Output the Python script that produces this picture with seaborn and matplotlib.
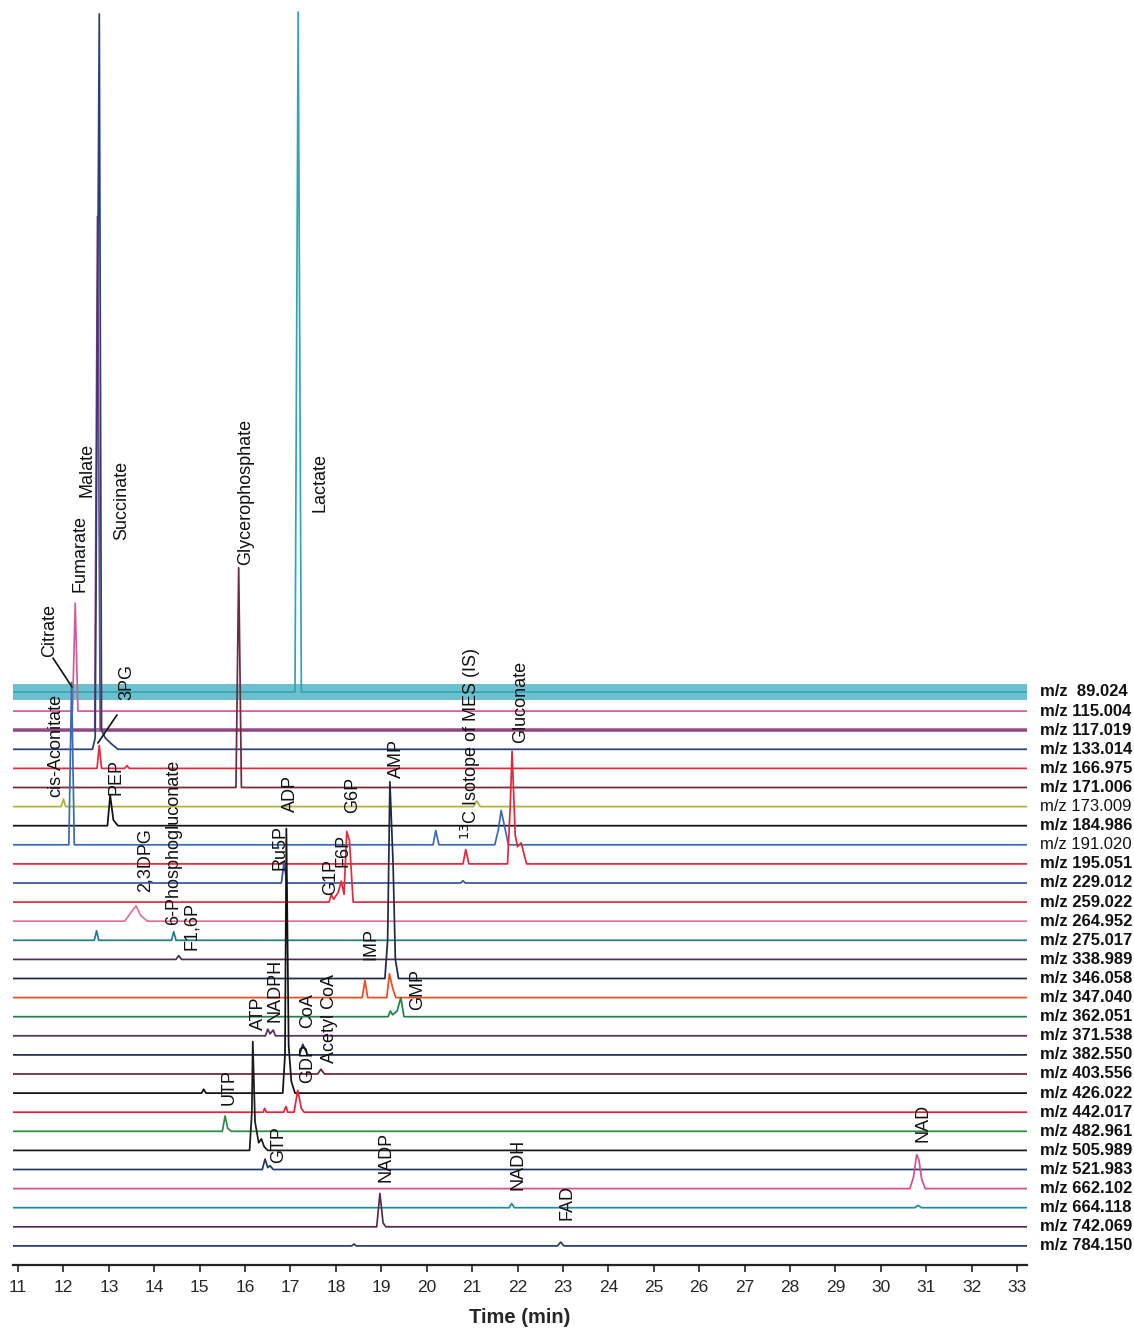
import matplotlib
matplotlib.use("Agg")
import matplotlib.pyplot as plt
import seaborn as sns
import pandas as pd
import numpy as np

# ---------------- data ----------------
mz_values = ["89.024", "115.004", "117.019", "133.014", "166.975", "171.006",
             "173.009", "184.986", "191.020", "195.051", "229.012", "259.022",
             "264.952", "275.017", "338.989", "346.058", "347.040", "362.051",
             "371.538", "382.550", "403.556", "426.022", "442.017", "482.961",
             "505.989", "521.983", "662.102", "664.118", "742.069", "784.150"]
mz_regular = ["173.009", "191.020"]          # labels printed in regular weight

# chromatogram profile vertices per trace: retention time (min) / intensity (trace-spacing units)
peak_times = {
    "89.024":  [17.10, 17.17, 17.24],
    "115.004": [12.20, 12.26, 12.32],
    "117.019": [12.69, 12.75, 12.81],
    "133.014": [12.64, 12.70, 12.79, 12.84, 12.92, 13.05, 13.20],
    "166.975": [12.74, 12.79, 12.84, 13.35, 13.40, 13.45],
    "171.006": [15.80, 15.86, 15.92],
    "173.009": [11.95, 12.00, 12.05, 21.03, 21.10, 21.18],
    "184.986": [12.97, 13.03, 13.10, 13.20],
    "191.020": [12.12, 12.18, 12.24, 20.14, 20.20, 20.27, 21.50, 21.58, 21.64, 21.72, 21.80],
    "195.051": [20.80, 20.86, 20.93, 21.78, 21.84, 21.88, 21.95, 22.00, 22.08, 22.20],
    "229.012": [16.80, 16.86, 16.92, 20.75, 20.80, 20.85],
    "259.022": [17.85, 17.90, 17.95, 18.05, 18.12, 18.18, 18.24, 18.30, 18.38],
    "264.952": [13.35, 13.50, 13.60, 13.70, 13.85],
    "275.017": [12.68, 12.73, 12.78, 14.38, 14.43, 14.48],
    "338.989": [14.48, 14.54, 14.60],
    "346.058": [19.08, 19.14, 19.19, 19.26, 19.31, 19.38],
    "347.040": [18.58, 18.64, 18.70, 19.12, 19.18, 19.25, 19.32],
    "362.051": [19.15, 19.20, 19.25, 19.35, 19.43, 19.50],
    "371.538": [16.45, 16.50, 16.55, 16.62, 16.67],
    "382.550": [17.20, 17.27, 17.32, 17.38],
    "403.556": [17.60, 17.67, 17.75],
    "426.022": [15.04, 15.09, 15.14, 16.83, 16.88, 16.91, 16.96, 17.02, 17.10],
    "442.017": [16.40, 16.43, 16.47, 16.85, 16.90, 16.94, 17.08, 17.16, 17.24, 17.30],
    "482.961": [15.50, 15.56, 15.62, 15.70],
    "505.989": [16.10, 16.15, 16.17, 16.22, 16.30, 16.36, 16.42, 16.50],
    "521.983": [16.38, 16.44, 16.50, 16.55, 16.62],
    "662.102": [30.64, 30.72, 30.79, 30.84, 30.90, 30.98],
    "664.118": [21.82, 21.87, 21.93, 30.75, 30.82, 30.90],
    "742.069": [18.90, 18.97, 19.04, 19.10],
    "784.150": [18.35, 18.40, 18.45, 22.88, 22.95, 23.02],
}
peak_heights = {
    "89.024":  [0.0, 35.6, 0.0],
    "115.004": [0.0, 5.65, 0.0],
    "117.019": [0.0, 26.9, 0.0],
    "133.014": [0.0, 0.6, 38.5, 1.0, 0.6, 0.3, 0.0],
    "166.975": [0.0, 1.2, 0.0, 0.0, 0.15, 0.0],
    "171.006": [0.0, 11.5, 0.0],
    "173.009": [0.0, 0.4, 0.0, 0.0, 0.3, 0.0],
    "184.986": [0.0, 1.6, 0.3, 0.0],
    "191.020": [0.0, 8.5, 0.0, 0.0, 0.75, 0.0, 0.0, 0.8, 1.8, 0.9, 0.0],
    "195.051": [0.0, 0.75, 0.0, 0.0, 3.0, 5.9, 1.5, 0.9, 1.1, 0.0],
    "229.012": [0.0, 1.1, 0.0, 0.0, 0.12, 0.0],
    "259.022": [0.0, 0.4, 0.15, 0.5, 1.1, 0.4, 3.7, 3.2, 0.0],
    "264.952": [0.0, 0.5, 0.8, 0.3, 0.0],
    "275.017": [0.0, 0.5, 0.0, 0.0, 0.45, 0.0],
    "338.989": [0.0, 0.2, 0.0],
    "346.058": [0.0, 2.0, 10.3, 6.0, 1.0, 0.0],
    "347.040": [0.0, 0.9, 0.0, 0.0, 1.25, 0.5, 0.0],
    "362.051": [0.0, 0.3, 0.1, 0.3, 1.0, 0.0],
    "371.538": [0.0, 0.35, 0.1, 0.3, 0.0],
    "382.550": [0.0, 0.55, 0.3, 0.0],
    "403.556": [0.0, 0.25, 0.0],
    "426.022": [0.0, 0.2, 0.0, 0.0, 2.0, 13.85, 2.5, 0.6, 0.0],
    "442.017": [0.0, 0.2, 0.0, 0.0, 0.3, 0.0, 0.0, 1.15, 0.2, 0.0],
    "482.961": [0.0, 0.8, 0.15, 0.0],
    "505.989": [0.0, 2.0, 5.7, 1.5, 0.4, 0.6, 0.2, 0.0],
    "521.983": [0.0, 0.55, 0.1, 0.2, 0.0],
    "662.102": [0.0, 0.6, 1.78, 1.5, 0.5, 0.0],
    "664.118": [0.0, 0.22, 0.0, 0.0, 0.12, 0.0],
    "742.069": [0.0, 1.75, 0.2, 0.0],
    "784.150": [0.0, 0.1, 0.0, 0.0, 0.2, 0.0],
}
# baseline noise amplitude (trace-spacing units)
noise_amp = {"89.024": 0.42, "117.019": 0.12}

compound_labels = ["Citrate", "Fumarate", "Malate", "Succinate", "Glycerophosphate",
                   "Lactate", "3PG", "cis-Aconitate", "PEP", "6-Phosphogluconate",
                   "2,3DPG", "F1,6P", "ADP", "G6P", "AMP", "Ru5P", "G1P", "F6P",
                   r"$^{13}$C Isotope of MES (IS)", "Gluconate", "IMP", "NADPH",
                   "ATP", "CoA", "Acetyl CoA", "GMP", "GDP", "UTP", "GTP", "NADP",
                   "NADH", "NAD", "FAD"]
x_ticks = list(range(11, 34))

# ---------------- style / layout ----------------
trace_colors = ["#2fa6b8", "#d65a9a", "#8c3f7c", "#263f7a", "#e8283c", "#6e2b3a",
                "#a9b53a", "#111111", "#3a6ab5", "#e62638", "#33569a", "#e52a3a",
                "#e0709a", "#1f7d8c", "#4b3050", "#1c2a48", "#f04a1e", "#22804a",
                "#5a2e5e", "#1e2a4a", "#6a2432", "#111111", "#e8203c", "#2a8a48",
                "#1a1a1a", "#1c3a6a", "#d4508a", "#1f8a9a", "#5a2a4a", "#2a3a6a"]
label_pos_t = [11.70, 12.37, 12.52, 13.29, 16.02, 17.65, 13.40, 11.84, 13.16, 14.43,
               13.80, 14.82, 16.99, 18.36, 19.33, 16.77, 17.89, 18.16, 20.98, 22.06,
               18.78, 16.66, 16.29, 17.37, 17.87, 19.81, 17.37, 15.65, 16.75, 19.11,
               22.01, 30.93, 23.09]
label_pos_v = [30.83, 34.24, 39.21, 36.96, 35.65, 38.42, 28.58, 23.50, 23.61, 16.80,
               18.53, 15.49, 22.72, 22.66, 24.50, 19.68, 18.37, 19.84, 21.25, 26.33,
               14.97, 11.72, 11.30, 11.41, 9.58, 12.35, 8.53, 7.38, 4.34, 3.35,
               2.93, 5.44, 1.36]

T_MIN, T_MAX = 10.89, 33.22
n = len(mz_values)
narrow = ["Liberation Sans Narrow", "DejaVu Sans Condensed", "Liberation Sans"]

sns.set_style("white")
plt.rcParams["font.family"] = ["Liberation Sans", "DejaVu Sans"]

rows = []
for i, mz in enumerate(mz_values):
    base = n - 1 - i
    ts = [T_MIN] + peak_times.get(mz, []) + [T_MAX]
    hs = [0.0] + peak_heights.get(mz, []) + [0.0]
    for t, h in zip(ts, hs):
        rows.append({"trace": mz, "time": t, "signal": base + h})
df = pd.DataFrame(rows)

fig = plt.figure(figsize=(11.34, 13.31), dpi=100)
ax = fig.add_axes([13 / 1134, 1 - 1265 / 1331, (1027 - 13) / 1134, 1265 / 1331])

# noise bands
for mz, amp in noise_amp.items():
    i = mz_values.index(mz)
    base = n - 1 - i
    ax.fill_between([T_MIN, T_MAX], base - amp, base + amp,
                    color=trace_colors[i], alpha=0.7, lw=0, zorder=1)

sns.lineplot(data=df, x="time", y="signal", hue="trace",
             palette=dict(zip(mz_values, trace_colors)), estimator=None,
             sort=False, legend=False, lw=1.25, ax=ax, zorder=2)

ax.set_xlim(T_MIN, T_MAX)
ax.set_ylim(-1, 65.23)
sns.despine(ax=ax, left=True, top=True, right=True)
ax.spines["bottom"].set_color("#222222")
ax.spines["bottom"].set_linewidth(1.6)
ax.set_yticks([])
ax.set_xticks(x_ticks)
ax.set_xticklabels([str(t) for t in x_ticks], fontdict={"family": narrow, "size": 12.5})
ax.tick_params(axis="x", direction="out", length=5, width=1.2, color="#222222",
               pad=6, bottom=True)
ax.set_xlabel("Time (min)", fontsize=14.5, fontweight="bold", family=narrow, labelpad=9)
ax.set_ylabel("")

# m/z labels on the right
for i, mz in enumerate(mz_values):
    base = n - 1 - i
    txt = "m/z  " + mz if len(mz) < 7 else "m/z " + mz
    ax.text(33.51, base, txt, ha="left", va="center", fontsize=12,
            fontweight="normal" if mz in mz_regular else "bold",
            family=narrow, clip_on=False, color="#111111")

# compound labels
for lab, t, v in zip(compound_labels, label_pos_t, label_pos_v):
    ax.text(t, v, lab, rotation=90, ha="center", va="bottom", fontsize=13,
            color="#111111")

# leader lines
ax.plot([11.77, 12.19], [30.78, 29.26], color="#111111", lw=1.2)
ax.plot([13.18, 12.76], [27.80, 26.33], color="#111111", lw=1.2)

fig.savefig("out.png", dpi=100, facecolor="white")
